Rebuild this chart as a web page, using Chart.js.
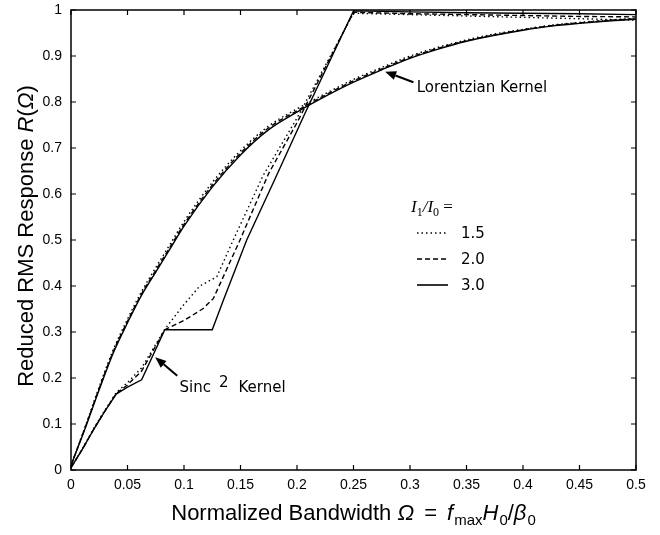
<!DOCTYPE html>
<html><head><meta charset="utf-8">
<script src="https://cdn.jsdelivr.net/npm/chart.js@4/dist/chart.umd.min.js"></script>
<style>html,body{margin:0;padding:0;background:#fff}#wrap{width:660px;height:535px;position:relative}</style>
</head><body><div id="wrap"><canvas id="c" width="660" height="535"></canvas></div>
<script>
// ---- tick labels ----
const xTickValues = [0,0.05,0.1,0.15,0.2,0.25,0.3,0.35,0.4,0.45,0.5];
const xTickLabels = ['0','0.05','0.1','0.15','0.2','0.25','0.3','0.35','0.4','0.45','0.5'];
const yTickValues = [0,0.1,0.2,0.3,0.4,0.5,0.6,0.7,0.8,0.9,1];
const yTickLabels = ['0','0.1','0.2','0.3','0.4','0.5','0.6','0.7','0.8','0.9','1'];

// ---- series labels (I1/I0) ----
const ratioLabels = ['1.5','2.0','3.0'];

// ---- Lorentzian kernel ----
const lorOmega = [0,0.0125,0.025,0.0375,0.05,0.0625,0.075,0.0875,0.1,0.125,0.15,0.175,0.2,0.225,0.25,0.275,0.3,0.325,0.35,0.375,0.4,0.425,0.45,0.475,0.5];
const lor15 = [0.01,0.094,0.181,0.262,0.328,0.388,0.44,0.49,0.54,0.625,0.694,0.748,0.785,0.818,0.849,0.875,0.9,0.919,0.935,0.948,0.958,0.967,0.973,0.978,0.982];
const lor20 = [0.01,0.092,0.178,0.258,0.323,0.383,0.434,0.484,0.534,0.619,0.689,0.744,0.781,0.815,0.846,0.872,0.897,0.917,0.933,0.946,0.957,0.966,0.972,0.977,0.981];
const lor30 = [0.01,0.09,0.175,0.255,0.32,0.38,0.43,0.48,0.53,0.615,0.685,0.74,0.778,0.812,0.843,0.87,0.895,0.915,0.932,0.945,0.956,0.965,0.971,0.976,0.98];

// ---- Sinc^2 kernel ----
const sinc15Omega = [0,0.01,0.02,0.03,0.04,0.05,0.0625,0.083,0.1,0.114,0.129,0.1436,0.17,0.2,0.25,0.3,0.35,0.4,0.45,0.5];
const sinc15 = [0.005,0.046,0.09,0.13,0.168,0.19,0.222,0.306,0.36,0.40,0.42,0.5,0.64,0.765,0.993,0.99,0.987,0.984,0.981,0.978];
const sinc20Omega = [0,0.01,0.02,0.03,0.04,0.05,0.0625,0.083,0.1,0.117,0.126,0.1496,0.175,0.2,0.25,0.3,0.35,0.4,0.45,0.5];
const sinc20 = [0.005,0.045,0.088,0.128,0.166,0.185,0.215,0.305,0.325,0.351,0.373,0.5,0.645,0.755,0.995,0.992,0.99,0.988,0.986,0.985];
const sinc30Omega = [0,0.01,0.02,0.03,0.04,0.05,0.0625,0.083,0.125,0.135,0.1555,0.18,0.207,0.25,0.3,0.35,0.4,0.45,0.5];
const sinc30 = [0.005,0.045,0.088,0.128,0.165,0.18,0.196,0.305,0.305,0.37,0.5,0.63,0.775,0.998,0.996,0.994,0.993,0.992,0.99];

const pts = (xs, ys) => xs.map((x, i) => ({x, y: ys[i]}));
const dashFor = {'1.5': [1.5, 3], '2.0': [5, 3], '3.0': []};

function ds(label, xs, ys, smooth) {
  return {
    label, data: pts(xs, ys),
    borderColor: '#000', borderWidth: 1.4,
    borderDash: dashFor[label], pointRadius: 0,
    fill: false, tension: 0,
    cubicInterpolationMode: smooth ? 'monotone' : 'default'
  };
}

const SANS = '"Liberation Sans", Arial, Helvetica, sans-serif';
const GENEVA = '"DejaVu Sans", Verdana, sans-serif';
const SERIF = '"Liberation Serif", "Times New Roman", serif';

function drawRuns(ctx, runs, x, y, align) {
  let total = 0;
  runs.forEach(r => { ctx.font = r.font; r.w = ctx.measureText(r.t).width; total += r.w + (r.gap || 0); });
  let cx = align === 'center' ? x - total / 2 : x;
  runs.forEach(r => { ctx.font = r.font; ctx.fillText(r.t, cx, y + (r.dy || 0)); cx += r.w + (r.gap || 0); });
}

function arrow(ctx, x1, y1, x2, y2) {
  const ang = Math.atan2(y2 - y1, x2 - x1);
  const L = 11, W = 4.5;
  const bx = x2 - L * Math.cos(ang), by = y2 - L * Math.sin(ang);
  ctx.beginPath(); ctx.moveTo(x1, y1); ctx.lineTo(bx, by);
  ctx.lineWidth = 2; ctx.stroke();
  ctx.beginPath();
  ctx.moveTo(x2, y2);
  ctx.lineTo(bx + W * Math.sin(ang), by - W * Math.cos(ang));
  ctx.lineTo(bx - W * Math.sin(ang), by + W * Math.cos(ang));
  ctx.closePath(); ctx.fill();
}

const decor = {
  id: 'decor',
  afterDraw(chart) {
    const {ctx, chartArea: a, scales: {x, y}} = chart;
    ctx.save();
    ctx.strokeStyle = '#000'; ctx.fillStyle = '#000';
    // frame
    ctx.lineWidth = 1.5;
    ctx.strokeRect(a.left, a.top, a.right - a.left, a.bottom - a.top);
    // inward ticks
    ctx.lineWidth = 1.2;
    ctx.beginPath();
    xTickValues.forEach(v => {
      const px = x.getPixelForValue(v);
      ctx.moveTo(px, a.bottom); ctx.lineTo(px, a.bottom - 5);
      ctx.moveTo(px, a.top); ctx.lineTo(px, a.top + 5);
    });
    yTickValues.forEach(v => {
      const py = y.getPixelForValue(v);
      ctx.moveTo(a.left, py); ctx.lineTo(a.left + 5, py);
      ctx.moveTo(a.right, py); ctx.lineTo(a.right - 5, py);
    });
    ctx.stroke();

    // axis titles
    ctx.textBaseline = 'alphabetic';
    const big = '22px ' + SANS, bigI = 'italic 22px ' + SANS, sub = '15px ' + SANS;
    drawRuns(ctx, [
      {t: 'Normalized Bandwidth ', font: big},
      {t: 'Ω', font: bigI, gap: 10},
      {t: '=', font: big, gap: 10},
      {t: 'f', font: bigI, gap: 1},
      {t: 'max', font: sub, dy: 5},
      {t: 'H', font: bigI, gap: 1},
      {t: '0', font: sub, dy: 5},
      {t: '/', font: big},
      {t: 'β', font: bigI, gap: 1},
      {t: '0', font: sub, dy: 5}
    ], (a.left + a.right) / 2, 520, 'center');

    ctx.save();
    ctx.translate(33, (a.top + a.bottom) / 2 - 4);
    ctx.rotate(-Math.PI / 2);
    drawRuns(ctx, [
      {t: 'Reduced RMS Response ', font: big},
      {t: 'R', font: bigI},
      {t: '(', font: big},
      {t: 'Ω', font: bigI},
      {t: ')', font: big}
    ], 0, 0, 'center');
    ctx.restore();

    // legend
    const lx = 417, lx2 = 448, ly0 = 233, ldy = 26;
    ctx.textBaseline = 'alphabetic';
    drawRuns(ctx, [
      {t: 'I', font: 'italic 17px ' + SERIF},
      {t: '1', font: '12px ' + SERIF, dy: 4},
      {t: '/', font: 'italic 17px ' + SERIF},
      {t: 'I', font: 'italic 17px ' + SERIF},
      {t: '0', font: '12px ' + SERIF, dy: 4},
      {t: ' =', font: '17px ' + SERIF}
    ], 411, ly0 - 21, 'left');
    ratioLabels.forEach((lab, i) => {
      const yy = ly0 + i * ldy;
      ctx.save();
      ctx.setLineDash(dashFor[lab]);
      ctx.lineWidth = 1.6;
      ctx.beginPath(); ctx.moveTo(lx, yy); ctx.lineTo(lx2, yy); ctx.stroke();
      ctx.restore();
      ctx.font = '15px ' + GENEVA;
      ctx.textBaseline = 'middle';
      ctx.fillText(lab, 461, yy + 1);
    });

    // annotations
    ctx.textBaseline = 'middle';
    ctx.font = '15px ' + GENEVA;
    arrow(ctx, x.getPixelForValue(0.303), y.getPixelForValue(0.843),
               x.getPixelForValue(0.278), y.getPixelForValue(0.866));
    ctx.fillText('Lorentzian Kernel', x.getPixelForValue(0.306), y.getPixelForValue(0.83));

    arrow(ctx, x.getPixelForValue(0.094), y.getPixelForValue(0.205),
               x.getPixelForValue(0.0745), y.getPixelForValue(0.245));
    ctx.textBaseline = 'alphabetic';
    const sx = x.getPixelForValue(0.096), sy = y.getPixelForValue(0.17);
    drawRuns(ctx, [
      {t: 'Sinc', font: '15px ' + GENEVA, gap: 8},
      {t: '2', font: '15px ' + GENEVA, dy: -5, gap: 10},
      {t: 'Kernel', font: '15px ' + GENEVA}
    ], sx, sy, 'left');

    ctx.restore();
  }
};

new Chart(document.getElementById('c'), {
  type: 'line',
  data: {
    datasets: [
      ds('1.5', lorOmega, lor15, true),
      ds('2.0', lorOmega, lor20, true),
      ds('3.0', lorOmega, lor30, true),
      ds('1.5', sinc15Omega, sinc15, false),
      ds('2.0', sinc20Omega, sinc20, false),
      ds('3.0', sinc30Omega, sinc30, false)
    ]
  },
  options: {
    responsive: false, animation: false, devicePixelRatio: 1,
    layout: {padding: {top: 10, right: 24, left: 0, bottom: 0}},
    plugins: {legend: {display: false}, tooltip: {enabled: false}},
    scales: {
      x: {
        type: 'linear', min: 0, max: 0.5,
        afterBuildTicks: s => { s.ticks = xTickValues.map(v => ({value: v})); },
        afterFit: s => { s.height = 65; s.paddingLeft = 0; s.paddingRight = 0; },
        grid: {display: false, drawTicks: false}, border: {display: false},
        ticks: {callback: (v, i) => xTickLabels[i], font: {family: SANS, size: 14}, color: '#000', padding: 7, maxRotation: 0, autoSkip: false}
      },
      y: {
        type: 'linear', min: 0, max: 1,
        afterBuildTicks: s => { s.ticks = yTickValues.map(v => ({value: v})); },
        afterFit: s => { s.width = 71; s.paddingTop = 0; s.paddingBottom = 0; },
        grid: {display: false, drawTicks: false}, border: {display: false},
        ticks: {callback: (v, i) => yTickLabels[i], font: {family: SANS, size: 14}, color: '#000', padding: 9, autoSkip: false}
      }
    }
  },
  plugins: [decor]
});
</script></body></html>
